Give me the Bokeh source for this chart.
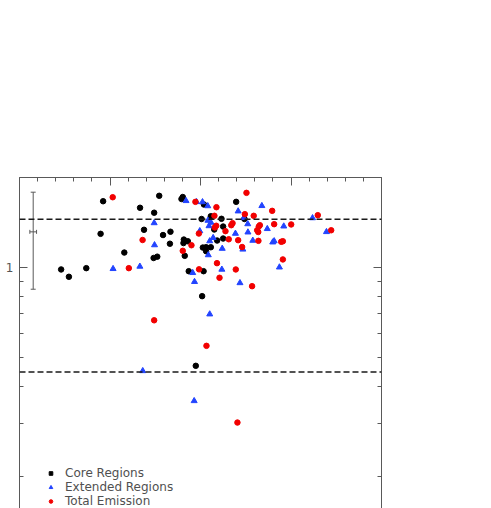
from bokeh.plotting import figure
from bokeh.models import (Range1d, LogAxis, FixedTicker, SingleIntervalTicker, Span,
                          Whisker, TeeHead, ColumnDataSource, Legend, LegendItem,
                          BasicTickFormatter)
from bokeh.embed import file_html
from bokeh.resources import INLINE

# ---------------- data ----------------
core_x = [0.230, 0.273, 0.369, 0.462, 0.448, 0.579, 0.666, 0.744, 0.772, 0.688,
          0.793, 0.834, 0.831, 0.741, 0.761, 0.895, 0.902, 1.019, 1.197, 1.057,
          1.006, 1.116, 1.243, 1.125, 1.092, 1.125, 0.908, 0.930, 0.906, 1.013,
          1.031, 1.057, 1.031, 0.913, 0.935, 1.017, 1.009, 0.974, 1.076]
core_y = [0.985, 0.931, 0.995, 1.666, 1.296, 1.122, 1.584, 1.525, 1.737, 1.337,
          1.284, 1.317, 1.201, 1.076, 1.087, 1.695, 1.721, 1.624, 1.658, 1.484,
          1.453, 1.455, 1.453, 1.371, 1.231, 1.250, 1.240, 1.224, 1.207, 1.166,
          1.169, 1.169, 1.134, 1.094, 0.972, 0.972, 0.802, 0.469, 1.340]

ext_x = [0.517, 0.665, 0.744, 0.746, 0.920, 0.978, 1.011, 1.040, 1.208, 1.239,
         1.041, 1.058, 1.047, 1.261, 0.996, 1.193, 1.262, 1.339, 1.369, 1.460,
         1.619, 1.696, 1.289, 1.399, 1.407, 1.070, 1.051, 1.120, 1.234, 1.043,
         0.957, 0.967, 1.118, 1.218, 1.436, 1.051, 0.681, 0.965]
ext_y = [0.990, 1.008, 1.409, 1.189, 1.671, 1.658, 1.656, 1.606, 1.543, 1.466,
         1.436, 1.414, 1.377, 1.398, 1.325, 1.299, 1.312, 1.608, 1.347, 1.374,
         1.464, 1.316, 1.231, 1.215, 1.226, 1.257, 1.226, 1.157, 1.150, 1.101,
         0.960, 0.896, 0.985, 0.888, 1.002, 0.698, 0.451, 0.358]

tot_x = [0.515, 0.604, 0.680, 0.744, 0.972, 1.088, 1.254, 1.077, 1.245, 1.294,
         1.396, 1.648, 1.087, 1.079, 1.177, 1.170, 0.991, 1.138, 1.156, 1.208,
         1.328, 1.322, 1.313, 1.319, 1.407, 1.501, 1.722, 1.320, 1.446, 1.455,
         1.230, 0.950, 0.902, 1.091, 1.455, 0.992, 1.105, 1.195, 1.285, 1.033,
         1.204]
tot_y = [1.718, 0.995, 1.236, 0.666, 1.658, 1.591, 1.777, 1.489, 1.508, 1.489,
         1.547, 1.496, 1.379, 1.361, 1.407, 1.385, 1.299, 1.323, 1.243, 1.234,
         1.385, 1.371, 1.332, 1.314, 1.396, 1.393, 1.332, 1.228, 1.219, 1.224,
         1.171, 1.187, 1.137, 1.034, 1.064, 0.986, 0.924, 0.985, 0.866, 0.547,
         0.303]

ref_lines = [1.45, 0.447]
err_x = [0.0757]
err_y = [1.316]
err_dx = [0.0185]
err_dy = [0.47]

y_major_ticks = [1]
y_minor_ticks = [0.2, 0.3, 0.4, 0.5, 0.6, 0.7, 0.8, 0.9]
legend_labels = ["Core Regions", "Extended Regions", "Total Emission"]

AX = "#595959"
BLUE = "#2244ff"
RED = "#f20000"

p = figure(width=389, height=508, x_range=Range1d(0, 2), y_range=Range1d(0.1563, 2),
           y_axis_type="log", x_axis_location="above",
           output_backend="svg", toolbar_location=None,
           min_border_left=19, min_border_right=8, min_border_top=177, min_border_bottom=0)
p.outline_line_color = None
p.xgrid.grid_line_color = None
p.ygrid.grid_line_color = None
p.background_fill_color = "white"
p.border_fill_color = "white"

# top axis (ticks only)
xa = p.xaxis[0]
xa.ticker = SingleIntervalTicker(interval=0.5, num_minor_ticks=5)
xa.major_label_text_font_size = "10px"
xa.major_label_text_color = None
xa.major_label_standoff = 0
xa.major_tick_in = 8
xa.major_tick_out = 0
xa.minor_tick_in = 4
xa.minor_tick_out = 0
xa.axis_line_color = AX
xa.major_tick_line_color = AX
xa.minor_tick_line_color = AX

# left axis
ya = p.yaxis[0]
ya.ticker = FixedTicker(ticks=y_major_ticks, minor_ticks=y_minor_ticks)
ya.formatter = BasicTickFormatter()
ya.major_label_text_font_size = "12px"
ya.major_label_text_font = "DejaVu Sans"
ya.major_label_text_color = "#555555"
ya.major_label_standoff = 6
ya.major_tick_in = 8
ya.major_tick_out = 0
ya.minor_tick_in = 4
ya.minor_tick_out = 0
ya.axis_line_color = AX
ya.major_tick_line_color = AX
ya.minor_tick_line_color = AX

# right axis (ticks only)
ra = LogAxis(ticker=FixedTicker(ticks=y_major_ticks, minor_ticks=y_minor_ticks),
             formatter=BasicTickFormatter(),
             major_label_text_font_size="10px", major_label_text_color=None,
             major_label_standoff=0,
             major_tick_in=8, major_tick_out=0, minor_tick_in=4, minor_tick_out=0,
             axis_line_color=AX, major_tick_line_color=AX, minor_tick_line_color=AX)
p.add_layout(ra, "right")

# reference dashed lines
for v in ref_lines:
    p.add_layout(Span(location=v, dimension="width", line_color="#1a1a1a",
                      line_dash="6 3", line_width=1.5))

# representative error bar
esrc = ColumnDataSource(dict(
    x=err_x, y=err_y,
    xlo=[a - b for a, b in zip(err_x, err_dx)], xhi=[a + b for a, b in zip(err_x, err_dx)],
    ylo=[a - b for a, b in zip(err_y, err_dy)], yhi=[a + b for a, b in zip(err_y, err_dy)]))
p.add_layout(Whisker(source=esrc, base="x", lower="ylo", upper="yhi", dimension="height",
                     line_color=AX, line_width=1,
                     upper_head=TeeHead(size=5, line_color=AX, line_width=1),
                     lower_head=TeeHead(size=5, line_color=AX, line_width=1)))
p.add_layout(Whisker(source=esrc, base="y", lower="xlo", upper="xhi", dimension="width",
                     line_color=AX, line_width=1,
                     upper_head=TeeHead(size=4, line_color=AX, line_width=1),
                     lower_head=TeeHead(size=4, line_color=AX, line_width=1)))

# data
core_src = ColumnDataSource(dict(x=core_x, y=core_y))
ext_src = ColumnDataSource(dict(x=ext_x, y=ext_y))
tot_src = ColumnDataSource(dict(x=tot_x, y=tot_y))
r_core = p.scatter("x", "y", source=core_src, marker="circle", size=5.5,
                   fill_color="black", line_color="black")
r_ext = p.scatter("x", "y", source=ext_src, marker="triangle", size=6,
                  fill_color=BLUE, line_color=BLUE)
r_tot = p.scatter("x", "y", source=tot_src, marker="circle", size=5.5,
                  fill_color=RED, line_color=RED)
# the core legend swatch is a square: zero-size marks, only the legend swatch shows
lg_core = p.scatter("x", "y", source=core_src, marker="square", size=0,
                    fill_color="black", line_color="black")

legend = Legend(items=[LegendItem(label=legend_labels[0], renderers=[lg_core]),
                       LegendItem(label=legend_labels[1], renderers=[r_ext]),
                       LegendItem(label=legend_labels[2], renderers=[r_tot])],
                location=(27, 0), border_line_color=None, background_fill_alpha=0,
                padding=0, margin=0, spacing=0, glyph_width=9, glyph_height=14,
                label_height=14, label_standoff=10, label_text_font_size="12px",
                label_text_font="DejaVu Sans", label_text_color="#505050")
p.add_layout(legend)

open("out.html", "w").write(file_html(p, INLINE))
